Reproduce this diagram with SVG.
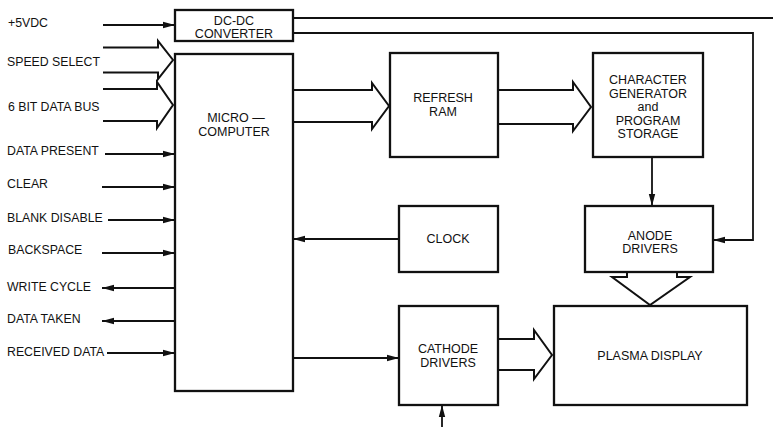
<svg xmlns="http://www.w3.org/2000/svg" width="773" height="427" viewBox="0 0 773 427">
<style>
.box{fill:#fff;stroke:#111;stroke-width:2.3}
.ln{fill:none;stroke:#111;stroke-width:1.8}
.bus{fill:none;stroke:#111;stroke-width:2;stroke-linejoin:miter}
.lbl{font-family:"Liberation Sans",Arial,sans-serif;font-size:12.3px;fill:#111}
.bt{font-family:"Liberation Sans",Arial,sans-serif;font-size:12.5px;fill:#111;text-anchor:middle}
</style>
<defs>
<marker id="ah" markerUnits="userSpaceOnUse" markerWidth="13" markerHeight="8" refX="12" refY="4" orient="auto">
<path d="M0,0.8 L12,4 L0,7.2 z" fill="#111"/>
</marker>
</defs>
<rect width="773" height="427" fill="#fff"/>

<g id="connectors">
<line class="ln" x1="103" y1="25" x2="175" y2="25" marker-end="url(#ah)"/>
<polyline class="bus" points="103,47.5 158,47.5 158,41 173,60 158,79 158,72.5 103,72.5"/>
<polyline class="bus" points="103,89 157,89 157,82 173,105 157,128 157,121 103,121"/>
<line class="ln" x1="105" y1="154" x2="175" y2="154" marker-end="url(#ah)"/>
<line class="ln" x1="102" y1="187" x2="175" y2="187" marker-end="url(#ah)"/>
<line class="ln" x1="108" y1="220" x2="175" y2="220" marker-end="url(#ah)"/>
<line class="ln" x1="102" y1="253" x2="175" y2="253" marker-end="url(#ah)"/>
<line class="ln" x1="175" y1="288" x2="102" y2="288" marker-end="url(#ah)"/>
<line class="ln" x1="175" y1="321" x2="102" y2="321" marker-end="url(#ah)"/>
<line class="ln" x1="107" y1="353" x2="175" y2="353" marker-end="url(#ah)"/>
<line class="ln" x1="293" y1="18" x2="773" y2="18"/>
<polyline class="ln" points="293,33 753,33 753,240 713,240" marker-end="url(#ah)"/>
<polyline class="bus" points="293,90 372,90 372,83 389,106 372,129 372,122 293,122"/>
<polyline class="bus" points="498,90 573,90 573,82 591,107 573,131 573,124 498,124"/>
<line class="ln" x1="652" y1="157" x2="652" y2="206" marker-end="url(#ah)"/>
<line class="ln" x1="399" y1="239" x2="293" y2="239" marker-end="url(#ah)"/>
<polyline class="bus" points="627,272 627,277 612,277 650,305 690,277 677,277 677,272"/>
<line class="ln" x1="293" y1="358" x2="399" y2="358" marker-end="url(#ah)"/>
<polyline class="bus" points="498,339 534,339 534,330 552,355 534,379 534,370 498,370"/>
<line class="ln" x1="442" y1="427" x2="442" y2="405" marker-end="url(#ah)"/>
</g>

<g id="labels">
<text class="lbl" x="8" y="27">+5VDC</text>
<text class="lbl" x="7" y="66">SPEED SELECT</text>
<text class="lbl" x="8" y="111">6 BIT DATA BUS</text>
<text class="lbl" x="7" y="155">DATA PRESENT</text>
<text class="lbl" x="7" y="188">CLEAR</text>
<text class="lbl" x="7" y="222">BLANK DISABLE</text>
<text class="lbl" x="8" y="254">BACKSPACE</text>
<text class="lbl" x="7" y="291">WRITE CYCLE</text>
<text class="lbl" x="7" y="323">DATA TAKEN</text>
<text class="lbl" x="7" y="356">RECEIVED DATA</text>
</g>

<g id="dcdc">
<rect class="box" x="175" y="10" width="118" height="31"/>
<text class="bt" x="234" y="24.5">DC-DC</text>
<text class="bt" x="234" y="38">CONVERTER</text>
</g>
<g id="micro">
<rect class="box" x="175" y="54" width="118" height="337"/>
<text class="bt" x="236" y="122">MICRO —</text>
<text class="bt" x="234" y="136">COMPUTER</text>
</g>
<g id="refresh">
<rect class="box" x="390" y="53" width="108" height="104"/>
<text class="bt" x="443" y="102">REFRESH</text>
<text class="bt" x="443" y="115.5">RAM</text>
</g>
<g id="chargen">
<rect class="box" x="593" y="53" width="110" height="104"/>
<text class="bt" x="648" y="84">CHARACTER</text>
<text class="bt" x="648" y="97.5">GENERATOR</text>
<text class="bt" x="648" y="111">and</text>
<text class="bt" x="648" y="124.5">PROGRAM</text>
<text class="bt" x="648" y="138">STORAGE</text>
</g>
<g id="clock">
<rect class="box" x="399" y="206" width="99" height="66"/>
<text class="bt" x="448" y="243">CLOCK</text>
</g>
<g id="anode">
<rect class="box" x="585" y="206" width="128" height="66"/>
<text class="bt" x="650" y="239.5">ANODE</text>
<text class="bt" x="650" y="253">DRIVERS</text>
</g>
<g id="cathode">
<rect class="box" x="399" y="306" width="99" height="99"/>
<text class="bt" x="448" y="353">CATHODE</text>
<text class="bt" x="448" y="366.5">DRIVERS</text>
</g>
<g id="plasma">
<rect class="box" x="554" y="306" width="193" height="99"/>
<text class="bt" x="650" y="360">PLASMA DISPLAY</text>
</g>
</svg>
